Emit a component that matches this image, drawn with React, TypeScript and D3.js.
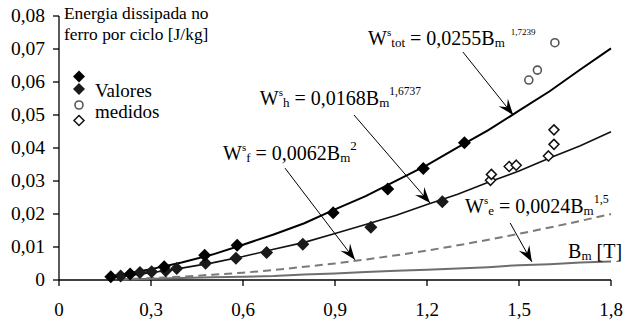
import * as d3 from "d3";
import React from "react";

// curve samples (B in T, W in J/kg)
const lineB = [0.17, 0.2, 0.3, 0.4, 0.5, 0.6, 0.7, 0.8, 0.9, 1.0, 1.1, 1.2, 1.3, 1.4, 1.5, 1.6, 1.7, 1.8];
const totLine = [0.0011, 0.0016, 0.0033, 0.0053, 0.0077, 0.0107, 0.0138, 0.0172, 0.0214, 0.0254, 0.0301, 0.0348, 0.0402, 0.0454, 0.0513, 0.0572, 0.0638, 0.0702];
const hystLine = [0.0009, 0.0011, 0.0022, 0.0036, 0.0052, 0.0071, 0.0093, 0.0114, 0.0141, 0.0168, 0.0196, 0.0229, 0.0260, 0.0296, 0.0330, 0.0370, 0.0407, 0.0449];
const classB = [0.2, 0.3, 0.4, 0.5, 0.6, 0.7, 0.8, 0.9, 1.0, 1.1, 1.2, 1.3, 1.4, 1.5, 1.6, 1.7, 1.8];
const classLine = [0.0002, 0.0006, 0.0010, 0.0016, 0.0022, 0.0030, 0.0040, 0.0050, 0.0062, 0.0075, 0.0089, 0.0105, 0.0122, 0.0140, 0.0159, 0.0179, 0.0200];
const excLine = [0.0001, 0.0004, 0.0006, 0.0008, 0.0010, 0.0012, 0.0017, 0.0020, 0.0024, 0.0028, 0.0031, 0.0035, 0.0039, 0.0045, 0.0048, 0.0053, 0.0056];

// measured values
const totB = [0.169, 0.232, 0.343, 0.475, 0.581, 0.894, 1.072, 1.188, 1.322];
const totW = [0.0010, 0.0018, 0.0040, 0.0075, 0.0105, 0.0204, 0.0276, 0.0338, 0.0416];
const hystB = [0.201, 0.264, 0.302, 0.348, 0.384, 0.478, 0.577, 0.677, 0.795, 1.017, 1.25];
const hystW = [0.0012, 0.0023, 0.0025, 0.0028, 0.0035, 0.0051, 0.0066, 0.0083, 0.0108, 0.016, 0.0237];
const circB = [1.532, 1.56, 1.617];
const circW = [0.0606, 0.0636, 0.0719];
const openB = [1.407, 1.41, 1.468, 1.491, 1.596, 1.614, 1.614];
const openW = [0.0302, 0.032, 0.0344, 0.0348, 0.0376, 0.0411, 0.0455];

const xTicks = [0, 0.3, 0.6, 0.9, 1.2, 1.5, 1.8];
const yTicks = [0, 0.01, 0.02, 0.03, 0.04, 0.05, 0.06, 0.07, 0.08];

// formula annotations: parts are [text, kind, size, dx]
const notes = [
  { tx: 1.008, ty: 0.0712, from: [1.317, 0.0691], to: [1.481, 0.05],
    parts: [["W", "n", 20], ["s", "sup", 11], ["tot", "sub", 13], [" = 0,0255B", "n", 20], ["m", "sub", 13], ["1,7239", "exp", 9, 6]] },
  { tx: 0.655, ty: 0.053, from: [0.962, 0.05], to: [1.21, 0.0233],
    parts: [["W", "n", 20], ["s", "sup", 11], ["h", "sub", 13], [" = 0,0168B", "n", 20], ["m", "sub", 13], ["1,6737", "exp", 11.5]] },
  { tx: 0.535, ty: 0.0364, from: [0.737, 0.0339], to: [0.965, 0.0061],
    parts: [["W", "n", 20], ["s", "sup", 11], ["f", "sub", 13], [" = 0,0062B", "n", 20], ["m", "sub", 13], ["2", "exp", 13]] },
  { tx: 1.324, ty: 0.0203, from: [1.471, 0.0173], to: [1.542, 0.0055],
    parts: [["W", "n", 20], ["s", "sup", 11], ["e", "sub", 13], [" = 0,0024B", "n", 20], ["m", "sub", 13], ["1,5", "exp", 12]] },
];

const fmt = (v: number) => (v === 0 ? "0" : d3.format(".2~f")(v).replace(".", ","));
const fmtX = (v: number) => (v === 0 ? "0" : d3.format(".1f")(v).replace(".", ","));

export default function App() {
  const width = 625;
  const height = 324;
  const x = d3.scaleLinear().domain([0, 1.8]).range([59, 611]);
  const y = d3.scaleLinear().domain([0, 0.08]).range([280, 16]);
  const font = "Liberation Serif, Times New Roman, DejaVu Serif, serif";

  const line = d3
    .line<[number, number]>()
    .x((d) => x(d[0]))
    .y((d) => y(d[1]));

  const diamond = (cx: number, cy: number, r: number) =>
    `M${cx},${cy - r}L${cx + r},${cy}L${cx},${cy + r}L${cx - r},${cy}Z`;

  const shift: any = { n: 0, sup: -9, sub: 2, exp: -10 };

  return (
    <svg width={width} height={height} style={{ position: "absolute", left: 0, top: 0, fontFamily: font }}>
      <rect width={width} height={height} fill="#fff" />

      {/* axes */}
      <line x1={x(0)} x2={x(0)} y1={y(0.08)} y2={y(0)} stroke="#000" strokeWidth={1.3} />
      <line x1={x(0)} x2={x(1.8)} y1={y(0)} y2={y(0)} stroke="#000" strokeWidth={1.3} />
      {yTicks.map((t) => (
        <g key={"y" + t}>
          <line x1={x(0) - 6} x2={x(0)} y1={y(t)} y2={y(t)} stroke="#000" strokeWidth={1.3} />
          <text x={45} y={y(t) + 6} textAnchor="end" fontSize={19.5}>{fmt(t)}</text>
        </g>
      ))}
      {xTicks.map((t) => (
        <g key={"x" + t}>
          <line x1={x(t)} x2={x(t)} y1={y(0)} y2={y(0) + 6} stroke="#000" strokeWidth={1.3} />
          <text x={x(t)} y={316} textAnchor="middle" fontSize={19}>{fmtX(t)}</text>
        </g>
      ))}

      {/* curves */}
      <path d={line(classB.map((b, i) => [b, excLine[i]]) as any) || ""} fill="none" stroke="#6e6e6e" strokeWidth={2} />
      <path d={line(classB.map((b, i) => [b, classLine[i]]) as any) || ""} fill="none" stroke="#7a7a7a" strokeWidth={2} strokeDasharray="8,5" />
      <path d={line(lineB.map((b, i) => [b, hystLine[i]]) as any) || ""} fill="none" stroke="#111" strokeWidth={1.6} />
      <path d={line(lineB.map((b, i) => [b, totLine[i]]) as any) || ""} fill="none" stroke="#000" strokeWidth={2} />

      {/* measured points */}
      {hystB.map((b, i) => (
        <path key={"h" + i} d={diamond(x(b), y(hystW[i]), 6.5)} fill="#1a1a1a" />
      ))}
      {totB.map((b, i) => (
        <path key={"t" + i} d={diamond(x(b), y(totW[i]), 6.5)} fill="#000" />
      ))}
      {circB.map((b, i) => (
        <circle key={"c" + i} cx={x(b)} cy={y(circW[i])} r={4} fill="#fff" stroke="#555" strokeWidth={1.6} />
      ))}
      {openB.map((b, i) => (
        <path key={"o" + i} d={diamond(x(b), y(openW[i]), 5)} fill="#fff" stroke="#111" strokeWidth={1.5} />
      ))}

      {/* annotations */}
      {notes.map((n, k) => {
        const x0 = x(n.from[0]);
        const y0 = y(n.from[1]);
        const x1 = x(n.to[0]);
        const y1 = y(n.to[1]);
        const ang = (Math.atan2(y1 - y0, x1 - x0) * 180) / Math.PI;
        const bx = x(n.tx);
        const by = y(n.ty);
        return (
          <g key={"n" + k}>
            <line x1={x0} y1={y0} x2={x1} y2={y1} stroke="#000" strokeWidth={1} />
            <path d="M0,0L-16,-6L-10,0L-16,6Z" fill="#000" transform={`translate(${x1},${y1}) rotate(${ang})`} />
            <text x={bx} y={by}>
              {n.parts.map((p: any, j) => (
                <tspan key={j} y={by + shift[p[1]]} dx={p[3] || 0} fontSize={p[2]}>{p[0]}</tspan>
              ))}
            </text>
          </g>
        );
      })}

      <text x={x(1.66)} y={y(0.0067)} fontSize={20}>
        B<tspan fontSize={13} y={y(0.0067) + 2}>m</tspan>
        <tspan y={y(0.0067)}> [T]</tspan>
      </text>

      {/* title & legend */}
      <text x={64} y={19} fontSize={17.4}>Energia dissipada no</text>
      <text x={64} y={40} fontSize={17.4}>ferro por ciclo [J/kg]</text>
      <path d={diamond(79, 76.5, 6)} fill="#000" />
      <path d={diamond(79, 89, 6)} fill="#1a1a1a" />
      <circle cx={79} cy={105} r={4} fill="#fff" stroke="#555" strokeWidth={1.6} />
      <path d={diamond(79, 120.5, 5)} fill="#fff" stroke="#111" strokeWidth={1.5} />
      <text x={95} y={97} fontSize={19}>Valores</text>
      <text x={95} y={118} fontSize={19}>medidos</text>
    </svg>
  );
}
